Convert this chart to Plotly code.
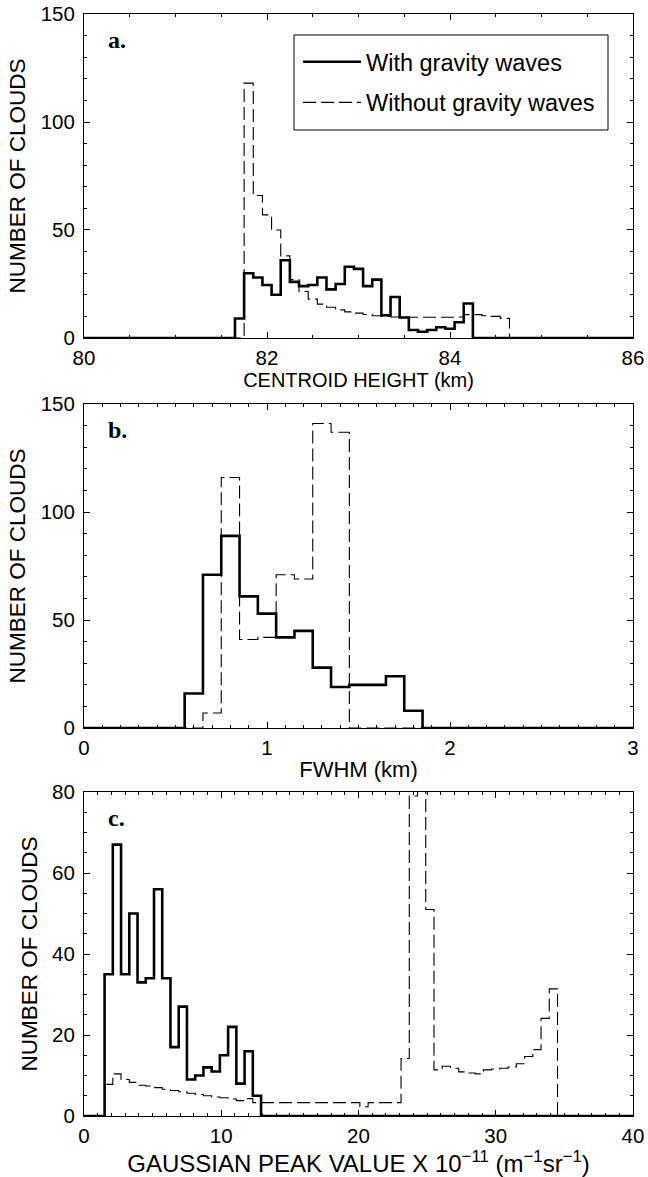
import numpy as np
import plotly.graph_objects as go

# ---------------- data ----------------
# Panel a: centroid height (km), bin width 0.1 km
A_BIN_WIDTH = 0.1
A_WITH_START = 81.65
A_WITH = [9, 30, 28, 24.5, 20, 36, 26, 24, 24.5, 28, 22.5, 25, 33, 32, 24, 27,
          10.5, 19, 9.5, 3.7, 2.9, 3.7, 5, 4.3, 7.3, 16]
A_WITHOUT_START = 81.75
A_WITHOUT = [118, 66, 57, 50, 38, 27, 21.5, 18, 15.7, 14.2, 13, 12.1, 11.5, 10.9,
             10.3, 10, 9.7, 9.6, 9.6, 9.6, 9.6, 9.6, 9.6, 9.7, 10.8, 10.8, 10.3, 10, 9.1]

# Panel b: FWHM (km), bin width 0.1 km
B_BIN_WIDTH = 0.1
B_WITH_START = 0.55
B_WITH = [16, 71, 89, 61, 53, 42, 45, 28, 19, 20, 20, 24, 8]
B_WITHOUT_START = 0.65
B_WITHOUT = [7, 116, 41, 42, 71, 69, 141, 137]

# Panel c: Gaussian peak value, bin width 0.6
C_BIN_WIDTH = 0.6
C_WITH_START = 1.5
C_WITH = [35, 67, 35, 50, 33, 34, 56, 34, 17, 27, 9, 10, 12, 11, 15, 22, 8, 16, 5]
C_WITHOUT_START = 1.5
C_WITHOUT = [7.8, 10.4, 9.0, 8.3, 7.6, 7.4, 7.0, 6.6, 6.3, 6.0, 5.6, 5.3, 5.0, 4.7,
             4.5, 4.2, 3.8, 4.3, 3.3, 3.3, 3.3, 3.3, 3.3, 3.3, 3.3, 3.3, 3.3, 3.3,
             3.3, 3.3, 3.3, 2.3, 3.3, 3.3, 3.3, 3.3,
             14.2, 79, 95, 51,
             11.4, 12.3, 11.8, 10.9, 10.6, 10.4, 11.4, 11.6, 11.8, 12.1, 12.9, 14.7,
             16.4, 24.1, 31.4]

X_RANGES = [(80, 86), (0, 3), (0, 40)]
Y_RANGES = [(0, 150), (0, 150), (0, 80)]
X_TITLES = ["CENTROID HEIGHT (km)", "FWHM (km)",
            "GAUSSIAN PEAK VALUE X 10<sup>−11</sup> (m<sup>−1</sup>sr<sup>−1</sup>)"]
X_TITLE_SIZES = [20, 22, 24]
X_TITLE_STANDOFF = [3, 3, 0]
Y_TITLE = "NUMBER OF CLOUDS"
PANEL_LABELS = ["a.", "b.", "c."]
X_DTICK = [2, 1, 10]
X_MINOR = [0.5, 0.1, 1]
Y_DTICK = [50, 50, 20]
Y_MINOR = [10, 10, 5]


def step_xy(start, width, values, xr):
    n = len(values)
    edges = start + width * np.arange(n + 1)
    x = [xr[0]] + list(edges) + [xr[1]]
    y = [0] + list(values) + [0, 0]
    return x, y


panels = [
    (A_WITH_START, A_BIN_WIDTH, A_WITH, A_WITHOUT_START, A_WITHOUT),
    (B_WITH_START, B_BIN_WIDTH, B_WITH, B_WITHOUT_START, B_WITHOUT),
    (C_WITH_START, C_BIN_WIDTH, C_WITH, C_WITHOUT_START, C_WITHOUT),
]

FONT = "Liberation Sans, Arial, Helvetica, sans-serif"
fig = go.Figure()

domains = [(0.706, 1.0), (0.352, 0.646), (0.0, 0.294)]

for i, (ws, bw, wv, wos, wov) in enumerate(panels):
    sfx = "" if i == 0 else str(i + 1)
    xr = X_RANGES[i]
    x2, y2 = step_xy(wos, bw, wov, xr)
    x1, y1 = step_xy(ws, bw, wv, xr)
    fig.add_trace(go.Scatter(
        x=x2, y=y2, mode="lines", line=dict(color="black", width=1.1, dash="13px,5px", shape="hv"),
        name="Without gravity waves", xaxis="x" + sfx, yaxis="y" + sfx,
        showlegend=(i == 0), legendgroup="g2", legendrank=2, hoverinfo="skip"))
    fig.add_trace(go.Scatter(
        x=x1, y=y1, mode="lines", line=dict(color="black", width=2.6, shape="hv"),
        name="With gravity waves", xaxis="x" + sfx, yaxis="y" + sfx,
        showlegend=(i == 0), legendgroup="g1", legendrank=1, hoverinfo="skip"))

    axis_common = dict(showline=True, linecolor="black", linewidth=1, mirror="ticks",
                       ticks="inside", tickcolor="black", ticklen=6, tickwidth=1,
                       showgrid=False, zeroline=False, automargin=False,
                       tickfont=dict(family=FONT, size=20.5, color="black"))
    fig.update_layout(**{
        "xaxis" + sfx: dict(axis_common, range=list(xr), dtick=X_DTICK[i], tick0=0,
                            anchor="y" + sfx, domain=[0, 1], ticklabelstandoff=1,
                            minor=dict(dtick=X_MINOR[i], ticks="inside", ticklen=3,
                                       tickcolor="black", showgrid=False),
                            title=dict(text=X_TITLES[i], standoff=X_TITLE_STANDOFF[i],
                                       font=dict(family=FONT, size=X_TITLE_SIZES[i],
                                                 color="black"))),
        "yaxis" + sfx: dict(axis_common, range=list(Y_RANGES[i]), dtick=Y_DTICK[i], tick0=0,
                            anchor="x" + sfx, domain=list(domains[i]), ticklabelstandoff=4,
                            minor=dict(dtick=Y_MINOR[i], ticks="inside", ticklen=3,
                                       tickcolor="black", showgrid=False),
                            title=dict(text=Y_TITLE, standoff=8,
                                       font=dict(family=FONT, size=22.5, color="black"))),
    })
    fig.add_annotation(text="<b>" + PANEL_LABELS[i] + "</b>",
                       xref=("x" + sfx + " domain"), yref=("y" + sfx + " domain"),
                       x=0.04, y=0.92, xanchor="left", yanchor="middle", showarrow=False,
                       font=dict(family="Liberation Serif, Times New Roman, serif", size=24,
                                 color="black"))

# legend frame (layout decoration, in pixels of panel a's domain)
LEG_BOX = dict(x0=(294 - 84) / 549, x1=(608 - 84) / 549,
               y0=(338 - 130) / 324, y1=(338 - 35) / 324)
fig.add_shape(type="rect", xref="x domain", yref="y domain", **LEG_BOX,
              line=dict(color="black", width=1), fillcolor="rgba(0,0,0,0)", layer="above")

fig.update_layout(
    width=648, height=1177,
    margin=dict(l=84, r=15, t=14, b=61, autoexpand=False),
    paper_bgcolor="white", plot_bgcolor="white",
    showlegend=True,
    legend=dict(x=(298 - 84) / 549, y=(1116 - 40) / 1102, xanchor="left", yanchor="top",
                borderwidth=0, bgcolor="rgba(0,0,0,0)",
                font=dict(family=FONT, size=23.5, color="black"),
                itemwidth=58, tracegroupgap=7, traceorder="grouped"),
)

fig.write_html("out.html")
